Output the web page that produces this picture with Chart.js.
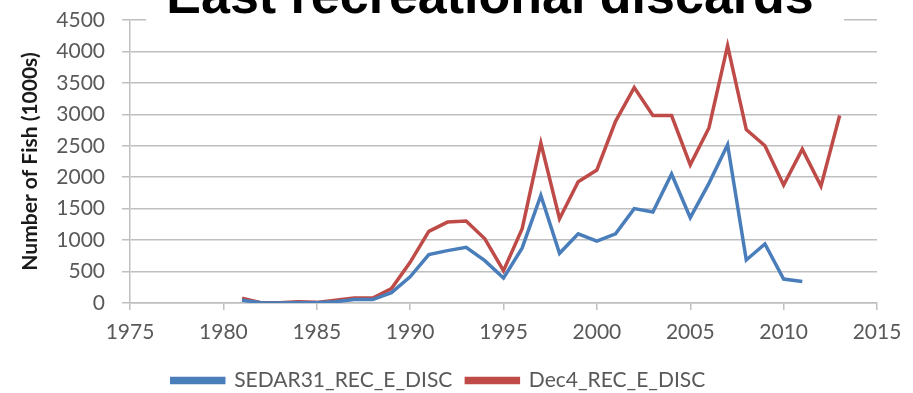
<!DOCTYPE html>
<html>
<head>
<meta charset="utf-8">
<script src="https://cdn.jsdelivr.net/npm/chart.js@4.4.0/dist/chart.umd.min.js"></script>
<style>
  html, body { margin: 0; padding: 0; background: #fff; }
  #myLineChart { display: block; }
</style>
</head>
<body>
<canvas id="myLineChart" width="913" height="393"></canvas>
<script>
var chartTitle = 'East recreational discards';
var yTitle = 'Number of Fish (1000s)';
var seriesNames = ['SEDAR31_REC_E_DISC', 'Dec4_REC_E_DISC'];

var sedarYears = [1981, 1982, 1983, 1984, 1985, 1986, 1987, 1988, 1989, 1990,
    1991, 1992, 1993, 1994, 1995, 1996, 1997, 1998, 1999, 2000,
    2001, 2002, 2003, 2004, 2005, 2006, 2007, 2008, 2009, 2010, 2011];
var sedarValues = [43, 5, 0, 5, 5, 20, 55, 55, 165, 417,
    769, 833, 886, 673, 396, 876, 1710, 790, 1101, 983,
    1101, 1501, 1447, 2051, 1357, 1902, 2516, 684, 940, 380, 342];

var dec4Years = [1981, 1982, 1983, 1984, 1985, 1986, 1987, 1988, 1989, 1990,
    1991, 1992, 1993, 1994, 1995, 1996, 1997, 1998, 1999, 2000,
    2001, 2002, 2003, 2004, 2005, 2006, 2007, 2008, 2009, 2010,
    2011, 2012, 2013];
var dec4Values = [75, 5, 5, 21, 10, 43, 80, 80, 230, 646,
    1138, 1287, 1303, 1020, 513, 1181, 2543, 1341, 1928, 2115,
    2889, 3425, 2981, 2981, 2196, 2783, 4092, 2757, 2500, 1875,
    2447, 1859, 2981];

var xMin = 1975, xMax = 2015, xStep = 5;
var yMin = 0, yMax = 4500, yStep = 500;

var _myChart = null;

function toPoints(xs, ys) {
    return xs.map((x, i) => ({ x: x, y: ys[i] }));
}

// titre en haut, coupé par le bord du canvas comme dans l'original
var titlePlugin = {
    id: 'cutTitle',
    afterDraw: function (chart) {
        var ctx = chart.ctx;
        ctx.save();
        ctx.fillStyle = '#ffffff';
        ctx.fillRect(146, 0, 698, 22);
        ctx.fillStyle = '#000000';
        ctx.font = 'bold 52px "Liberation Sans", Arial, sans-serif';
        ctx.textAlign = 'center';
        ctx.textBaseline = 'alphabetic';
        ctx.fillText(chartTitle, 490, 13);
        ctx.restore();
    }
};

function buildLineChart() {
    var gridColor = '#bfbfbf';
    var tickColor = '#595959';

    var data = {
        datasets: [
            {
                label: seriesNames[0],
                data: toPoints(sedarYears, sedarValues),
                borderColor: '#4a7ebb',
                backgroundColor: '#4a7ebb',
                borderWidth: 3.5,
                pointRadius: 0,
                tension: 0,
            },
            {
                label: seriesNames[1],
                data: toPoints(dec4Years, dec4Values),
                borderColor: '#be4b48',
                backgroundColor: '#be4b48',
                borderWidth: 3.5,
                pointRadius: 0,
                tension: 0,
            },
        ],
    };

    var options = {
        responsive: false,
        animation: false,
        layout: {
            padding: { left: 0, right: 36, top: 20, bottom: -8 },
        },
        plugins: {
            legend: {
                position: 'bottom',
                labels: {
                    boxWidth: 52,
                    boxHeight: 4,
                    padding: 14,
                    color: tickColor,
                    font: { family: 'Lato', size: 21 },
                },
            },
            tooltip: { enabled: false },
        },
        scales: {
            x: {
                type: 'linear',
                min: xMin,
                max: xMax,
                afterFit: function (scale) {
                    scale.height = 53;
                    scale.paddingLeft = 0;
                    scale.paddingRight = 0;
                },
                ticks: {
                    stepSize: xStep,
                    padding: 10,
                    color: tickColor,
                    font: { family: 'Lato', size: 21 },
                    callback: function (v) { return String(v); },
                },
                grid: {
                    drawOnChartArea: false,
                    drawTicks: true,
                    tickLength: 7,
                    color: gridColor,
                    lineWidth: 1.5,
                },
                border: { color: gridColor, width: 1.5 },
            },
            y: {
                min: yMin,
                max: yMax,
                afterFit: function (scale) {
                    scale.width = 130;
                    scale.paddingTop = 0;
                    scale.paddingBottom = 0;
                },
                ticks: {
                    stepSize: yStep,
                    padding: 17,
                    color: tickColor,
                    font: { family: 'Lato', size: 21 },
                    callback: function (v) { return String(v); },
                },
                grid: {
                    drawTicks: true,
                    tickLength: 8,
                    color: gridColor,
                    lineWidth: 1.5,
                },
                border: { color: gridColor, width: 1.5 },
                title: {
                    display: true,
                    text: yTitle,
                    color: '#1a1a1a',
                    font: { family: 'Lato', size: 21, weight: 'bold' },
                    padding: { top: 18, bottom: 0 },
                },
            },
        },
    };

    var ctx = document.getElementById('myLineChart').getContext('2d');
    _myChart = new Chart(ctx, {
        type: 'line',
        data: data,
        options: options,
        plugins: [titlePlugin],
    });
}

buildLineChart();
</script>
</body>
</html>
